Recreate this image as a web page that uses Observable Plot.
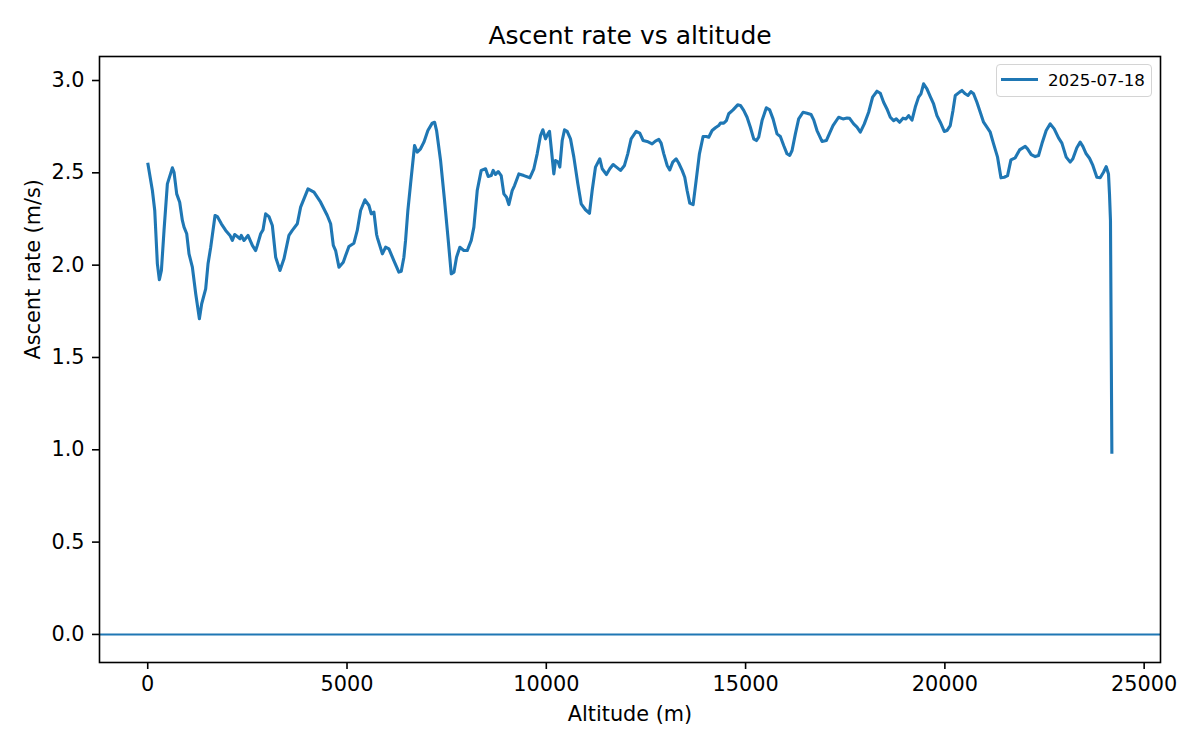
<!DOCTYPE html>
<html>
<head>
<meta charset="utf-8">
<script src="https://cdn.jsdelivr.net/npm/d3@7"></script>
<script src="https://cdn.jsdelivr.net/npm/@observablehq/plot@0.6"></script>
<style>
  html, body { margin: 0; padding: 0; background: #fff; }
  #wrap { position: relative; width: 1200px; height: 750px; font-family: "DejaVu Sans", sans-serif; }
  #legend { position: absolute; left: 996px; top: 64px; width: 156px; height: 33px; border: 1.5px solid #d4d4d4; border-radius: 4px; background: rgba(255,255,255,0.8); box-sizing: border-box; }
  #legend .sw { position: absolute; left: 4px; top: 12.5px; width: 37px; height: 0; border-top: 3px solid #1f77b4; }
  #legend .lb { position: absolute; left: 51px; top: 5px; font-size: 16.7px; color: #000; line-height: 20px; }
</style>
</head>
<body>
<div id="wrap"></div>
<script>
const altitude = [0,117,176,242,292,343,409,493,618,660,727,802,869,911,978,1036,1120,1204,1296,1354,1454,1513,1580,1689,1747,1847,1956,2064,2123,2181,2248,2315,2348,2415,2516,2625,2708,2750,2834,2892,2959,3042,3126,3210,3318,3418,3543,3627,3753,3836,4021,4171,4338,4505,4589,4656,4714,4798,4906,4965,5048,5173,5257,5341,5450,5550,5609,5675,5742,5760,5887,5968,6051,6175,6301,6361,6427,6469,6527,6595,6695,6762,6845,6929,7029,7138,7197,7247,7347,7447,7540,7615,7683,7748,7831,7932,8016,8117,8183,8267,8367,8476,8543,8618,8668,8726,8793,8868,8935,9002,9060,9144,9203,9311,9437,9587,9688,9771,9855,9913,9980,10039,10080,10130,10189,10231,10298,10339,10399,10457,10524,10607,10691,10791,10875,10983,11083,11151,11234,11343,11402,11509,11593,11677,11760,11861,11961,12044,12128,12254,12345,12429,12530,12655,12738,12822,12881,12948,13032,13098,13173,13257,13324,13408,13474,13533,13599,13684,13759,13842,13934,14017,14075,14160,14243,14326,14368,14452,14519,14577,14686,14802,14870,14953,15037,15120,15204,15271,15329,15413,15521,15604,15689,15789,15872,15956,16040,16106,16166,16249,16332,16442,16542,16642,16709,16792,16918,17026,17109,17193,17334,17444,17544,17610,17711,17795,17879,17979,18087,18187,18297,18380,18463,18547,18631,18714,18781,18864,18950,19025,19090,19175,19258,19340,19400,19466,19550,19634,19717,19801,19885,19985,20052,20135,20203,20261,20369,20429,20512,20579,20654,20720,20804,20888,20971,21055,21138,21222,21322,21407,21490,21573,21657,21765,21874,22016,22074,22167,22267,22350,22434,22542,22643,22743,22852,22936,23044,23144,23211,23311,23395,23462,23545,23629,23713,23813,23897,23980,24047,24105,24130,24155,24190];
const ascentRate = [2.554,2.404,2.296,2.007,1.921,1.971,2.188,2.44,2.527,2.503,2.386,2.341,2.242,2.206,2.170,2.061,1.989,1.845,1.710,1.791,1.872,2.007,2.097,2.269,2.263,2.224,2.188,2.161,2.134,2.166,2.155,2.143,2.161,2.134,2.161,2.107,2.079,2.107,2.170,2.191,2.278,2.263,2.215,2.043,1.971,2.034,2.161,2.188,2.224,2.314,2.413,2.395,2.341,2.269,2.224,2.107,2.079,1.989,2.016,2.052,2.101,2.119,2.188,2.296,2.354,2.323,2.278,2.287,2.166,2.150,2.061,2.097,2.088,2.025,1.962,1.967,2.043,2.134,2.296,2.441,2.648,2.612,2.630,2.666,2.729,2.769,2.774,2.729,2.567,2.350,2.134,1.953,1.962,2.043,2.097,2.079,2.079,2.134,2.206,2.404,2.513,2.522,2.480,2.485,2.513,2.491,2.507,2.485,2.386,2.368,2.328,2.404,2.431,2.494,2.485,2.473,2.522,2.603,2.702,2.733,2.684,2.711,2.725,2.621,2.494,2.567,2.558,2.531,2.675,2.733,2.725,2.684,2.585,2.441,2.332,2.300,2.281,2.404,2.531,2.576,2.522,2.491,2.522,2.545,2.531,2.513,2.540,2.603,2.684,2.724,2.715,2.675,2.670,2.657,2.672,2.681,2.661,2.603,2.540,2.516,2.558,2.576,2.552,2.513,2.476,2.404,2.336,2.328,2.458,2.603,2.697,2.697,2.693,2.729,2.744,2.756,2.769,2.769,2.783,2.820,2.841,2.868,2.865,2.838,2.801,2.747,2.684,2.675,2.693,2.783,2.852,2.841,2.792,2.711,2.697,2.648,2.603,2.594,2.621,2.711,2.792,2.828,2.823,2.816,2.787,2.729,2.670,2.675,2.715,2.756,2.801,2.792,2.797,2.795,2.765,2.747,2.720,2.765,2.828,2.910,2.942,2.931,2.882,2.846,2.801,2.783,2.792,2.774,2.796,2.792,2.810,2.785,2.856,2.910,2.928,2.982,2.955,2.913,2.873,2.810,2.774,2.724,2.729,2.756,2.837,2.919,2.937,2.946,2.928,2.919,2.940,2.928,2.882,2.828,2.774,2.747,2.720,2.657,2.585,2.473,2.476,2.485,2.570,2.581,2.624,2.643,2.630,2.599,2.588,2.594,2.657,2.729,2.765,2.738,2.689,2.661,2.585,2.558,2.576,2.636,2.666,2.643,2.603,2.579,2.540,2.476,2.473,2.503,2.534,2.494,2.386,2.242,0.979];
const xTicks = [0, 5000, 10000, 15000, 20000, 25000];
const yTicks = [0.0, 0.5, 1.0, 1.5, 2.0, 2.5, 3.0];
const seriesName = "2025-07-18";
const titleText = "Ascent rate vs altitude";
const xLabel = "Altitude (m)";
const yLabel = "Ascent rate (m/s)";

const data = altitude.map((a, i) => ({alt: a, rate: ascentRate[i]}));
const blue = "#1f77b4";

const chart = Plot.plot({
  width: 1200,
  height: 750,
  marginLeft: 99,
  marginRight: 40,
  marginTop: 56,
  marginBottom: 88,
  style: {fontFamily: "'DejaVu Sans', sans-serif", fontSize: "20.8px", color: "#000", background: "#fff"},
  x: {domain: [-1210, 25410], ticks: xTicks, tickFormat: "d"},
  y: {domain: [-0.152, 3.130], ticks: yTicks, tickFormat: ".1f"},
  marks: [
    Plot.ruleY([0], {stroke: blue, strokeWidth: 2.1}),
    Plot.line(data, {x: "alt", y: "rate", stroke: blue, strokeWidth: 3.1, strokeLinejoin: "round", strokeLinecap: "butt"}),
    Plot.frame({stroke: "#000", strokeWidth: 1.6}),
    Plot.axisX({ticks: xTicks, tickFormat: "d", tickSize: 7, tickPadding: 7, label: null, stroke: "#000", strokeWidth: 1.6, fill: "#000", strokeOpacity: 1, fontSize: 20.8}),
    Plot.axisY({ticks: yTicks, tickFormat: ".1f", tickSize: 7, tickPadding: 8, label: null, stroke: "#000", strokeWidth: 1.6, fill: "#000", strokeOpacity: 1, fontSize: 20.8}),
    Plot.text([xLabel], {frameAnchor: "bottom", lineAnchor: "middle", dy: 51.5, fontSize: 20.8, fill: "#000"}),
    Plot.text([yLabel], {frameAnchor: "left", lineAnchor: "middle", dx: -66, rotate: -90, fontSize: 20.8, fill: "#000"}),
    Plot.text([titleText], {frameAnchor: "top", lineAnchor: "middle", dy: -20.7, fontSize: 25, fill: "#000"})
  ]
});

const wrap = document.getElementById("wrap");
wrap.appendChild(chart);
const leg = document.createElement("div");
leg.id = "legend";
leg.innerHTML = '<div class="sw"></div><div class="lb"></div>';
leg.querySelector(".lb").textContent = seriesName;
wrap.appendChild(leg);
</script>
</body>
</html>
